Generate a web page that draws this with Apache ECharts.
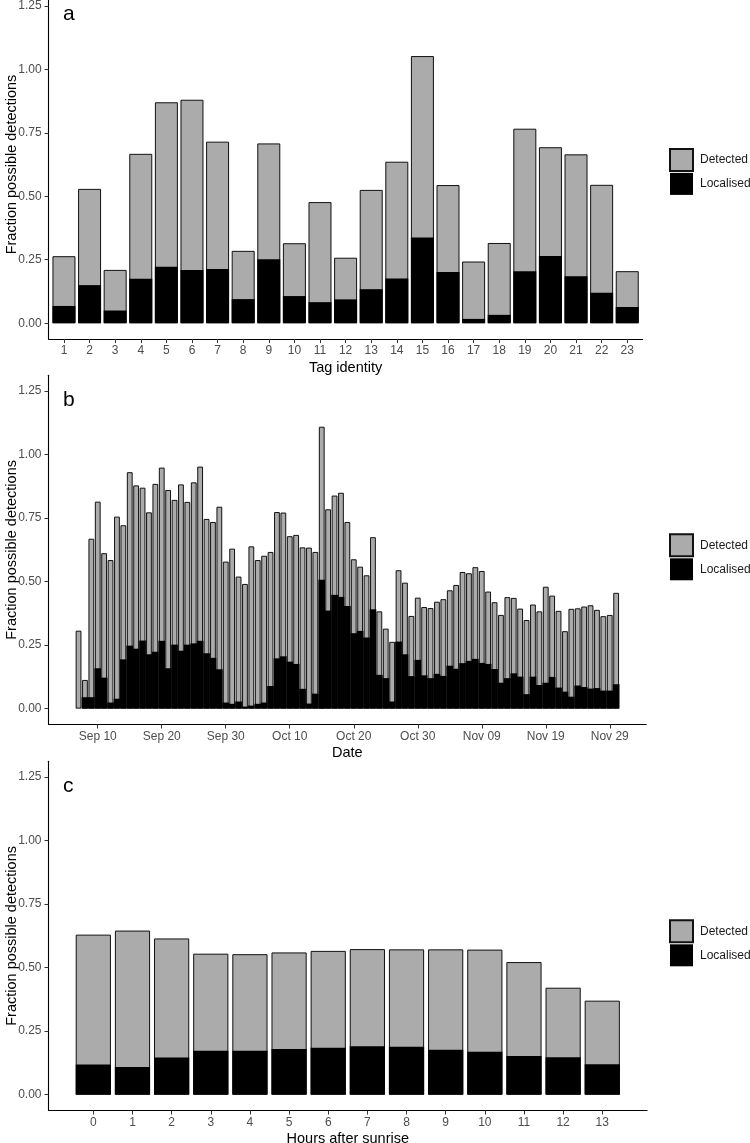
<!DOCTYPE html>
<html>
<head>
<meta charset="utf-8">
<script src="https://cdn.jsdelivr.net/npm/echarts@6/dist/echarts.min.js"></script>
<style>
  html, body { margin: 0; background: #fff; }
  #chart { width: 750px; height: 1143px; }
</style>
</head>
<body>
<div id="chart"></div>
<script>
// panel a: per tag
const tagIds = [1, 2, 3, 4, 5, 6, 7, 8, 9, 10, 11, 12, 13, 14, 15, 16, 17, 18, 19, 20, 21, 22, 23]
const tagDetected = [0.264, 0.529, 0.210, 0.667, 0.870, 0.880, 0.715, 0.285, 0.708, 0.315, 0.477, 0.258,
  0.525, 0.636, 1.052, 0.544, 0.243, 0.316, 0.766, 0.693, 0.665, 0.545, 0.205]
const tagLocalised = [0.068, 0.150, 0.050, 0.175, 0.222, 0.210, 0.214, 0.095, 0.252, 0.107, 0.083, 0.094,
  0.134, 0.176, 0.338, 0.202, 0.017, 0.033, 0.205, 0.265, 0.185, 0.120, 0.064]

// panel b: per day, first day Sep 07, consecutive days
const dayStart = Date.UTC(2020, 8, 7)
const dayDetected = [0.307, 0.113, 0.669, 0.815, 0.612, 0.585, 0.756, 0.722, 0.931, 0.879, 0.870, 0.773,
  0.885, 0.949, 0.861, 0.822, 0.883, 0.814, 0.891, 0.953, 0.747, 0.735, 0.795, 0.579, 0.630, 0.520,
  0.491, 0.639, 0.585, 0.602, 0.617, 0.774, 0.772, 0.679, 0.684, 0.635, 0.634, 0.617, 1.110, 0.785,
  0.839, 0.850, 0.735, 0.588, 0.559, 0.525, 0.675, 0.383, 0.315, 0.263, 0.545, 0.496, 0.365, 0.437,
  0.400, 0.396, 0.421, 0.431, 0.466, 0.487, 0.538, 0.533, 0.557, 0.542, 0.461, 0.419, 0.369, 0.439,
  0.436, 0.394, 0.349, 0.410, 0.383, 0.480, 0.445, 0.385, 0.305, 0.393, 0.395, 0.402, 0.407, 0.389,
  0.364, 0.369, 0.456]
const dayLocalised = [0.000, 0.045, 0.045, 0.159, 0.122, 0.024, 0.039, 0.194, 0.248, 0.236, 0.268, 0.214,
  0.224, 0.267, 0.159, 0.252, 0.228, 0.252, 0.257, 0.267, 0.218, 0.200, 0.155, 0.024, 0.019, 0.028,
  0.008, 0.012, 0.019, 0.024, 0.089, 0.198, 0.206, 0.185, 0.176, 0.078, 0.020, 0.059, 0.507, 0.386,
  0.448, 0.440, 0.404, 0.297, 0.306, 0.280, 0.391, 0.133, 0.120, 0.028, 0.264, 0.214, 0.128, 0.192,
  0.131, 0.120, 0.137, 0.129, 0.169, 0.157, 0.179, 0.188, 0.196, 0.180, 0.176, 0.156, 0.102, 0.120,
  0.139, 0.126, 0.057, 0.126, 0.093, 0.102, 0.125, 0.083, 0.067, 0.047, 0.091, 0.085, 0.079, 0.081,
  0.071, 0.071, 0.096]
const dateTicks = ['Sep 10', 'Sep 20', 'Sep 30', 'Oct 10', 'Oct 20', 'Oct 30', 'Nov 09', 'Nov 19', 'Nov 29']

// panel c: per hour after sunrise
const hours = [0, 1, 2, 3, 4, 5, 6, 7, 8, 9, 10, 11, 12, 13]
const hourDetected = [0.630, 0.646, 0.615, 0.555, 0.553, 0.560, 0.566, 0.573, 0.572, 0.572, 0.571, 0.522, 0.421, 0.370]
const hourLocalised = [0.119, 0.109, 0.146, 0.173, 0.173, 0.180, 0.185, 0.190, 0.189, 0.177, 0.169, 0.152, 0.147, 0.120]

const yTicks = [0, 0.25, 0.5, 0.75, 1, 1.25]

const MONTHS = ['Jan', 'Feb', 'Mar', 'Apr', 'May', 'Jun', 'Jul', 'Aug', 'Sep', 'Oct', 'Nov', 'Dec']
const dayLabels = dayDetected.map((_, i) => {
  const d = new Date(dayStart + i * 86400000)
  return MONTHS[d.getUTCMonth()] + ' ' + String(d.getUTCDate()).padStart(2, '0')
})
const dayIndex = dayDetected.map((_, i) => i)
const dateTickIdx = dateTicks.map(t => dayLabels.indexOf(t))

const FONT = '"Liberation Sans", Arial, sans-serif'
const GREY = '#ababab'

const panels = [
  {
    tag: 'a', title: 'Tag identity',
    grid: { left: 48.6, top: -10.1, width: 594, height: 349.2 },
    min: 0.4, max: 23.6, ticks: tagIds, fmt: v => String(v),
    x: tagIds, det: tagDetected, loc: tagLocalised, wDet: 23, wLoc: 23
  },
  {
    tag: 'b', title: 'Date',
    grid: { left: 48.5, top: 375.3, width: 597.7, height: 349.2 },
    min: -4.695, max: 88.695, ticks: dateTickIdx, fmt: v => dayLabels[Math.round(v)],
    x: dayIndex, det: dayDetected, loc: dayLocalised, wDet: 5.8, wLoc: 6.7
  },
  {
    tag: 'c', title: 'Hours after sunrise',
    grid: { left: 48.5, top: 761.3, width: 598.6, height: 349.2 },
    min: -1.145, max: 14.145, ticks: hours, fmt: v => String(v),
    x: hours, det: hourDetected, loc: hourLocalised, wDet: 35.2, wLoc: 35.2
  }
]

const option = {
  animation: false,
  backgroundColor: '#fff',
  textStyle: { fontFamily: FONT },
  title: [],
  grid: [],
  xAxis: [],
  yAxis: [],
  legend: [],
  series: []
}

panels.forEach((p, i) => {
  option.grid.push({ ...p.grid, outerBoundsMode: 'none', containLabel: false })
  option.title.push({
    text: p.tag, left: 63, top: p.grid.top + 14, padding: 0,
    textStyle: { fontSize: 21, fontWeight: 'normal', color: '#000', fontFamily: FONT }
  })
  option.xAxis.push({
    type: 'value', gridIndex: i, min: p.min, max: p.max,
    name: p.title, nameLocation: 'middle', nameGap: 21,
    nameTextStyle: { fontSize: 14.5, color: '#000', fontFamily: FONT },
    axisLine: { show: true, onZero: false, lineStyle: { color: '#000', width: 1.1 } },
    axisTick: { show: true, length: 4, customValues: p.ticks, lineStyle: { color: '#333', width: 1 } },
    axisLabel: { customValues: p.ticks, formatter: p.fmt, color: '#4d4d4d', fontSize: 12, margin: 6, fontFamily: FONT },
    splitLine: { show: false }
  })
  option.xAxis.push({
    type: 'value', gridIndex: i, min: p.min, max: p.max, show: false, splitLine: { show: false }
  })
  option.yAxis.push({
    type: 'value', gridIndex: i, min: -0.0625, max: 1.3125,
    name: 'Fraction possible detections', nameLocation: 'middle', nameGap: 29, nameMoveOverlap: false,
    nameTextStyle: { fontSize: 14.5, color: '#000', fontFamily: FONT },
    axisLine: { show: true, onZero: false, lineStyle: { color: '#000', width: 1.1 } },
    axisTick: { show: true, length: 4, customValues: yTicks, lineStyle: { color: '#333', width: 1 } },
    axisLabel: { customValues: yTicks, formatter: v => v.toFixed(2), color: '#4d4d4d', fontSize: 12, margin: 7, fontFamily: FONT },
    splitLine: { show: false }
  })
  option.legend.push({
    orient: 'vertical', left: 669, top: p.grid.top + 158, padding: 0,
    itemWidth: 23, itemHeight: 22, itemGap: 1, icon: 'rect',
    selectedMode: false,
    data: ['Detected', 'Localised'],
    textStyle: { fontSize: 12, color: '#1a1a1a', fontFamily: FONT, padding: [0, 0, 0, 2] }
  })
  option.series.push({
    type: 'bar', name: 'Detected', xAxisIndex: i * 2, yAxisIndex: i,
    barWidth: p.wDet, z: 2,
    itemStyle: { color: GREY, borderColor: '#111', borderWidth: 1 },
    data: p.x.map((x, k) => [x, p.det[k]])
  })
  option.series.push({
    type: 'bar', name: 'Localised', xAxisIndex: i * 2 + 1, yAxisIndex: i,
    barWidth: p.wLoc, z: 3,
    itemStyle: { color: '#000' },
    data: p.x.map((x, k) => [x, p.loc[k]])
  })
})

const chart = echarts.init(document.getElementById('chart'), null, { renderer: 'canvas' })
chart.setOption(option)
</script>
</body>
</html>
